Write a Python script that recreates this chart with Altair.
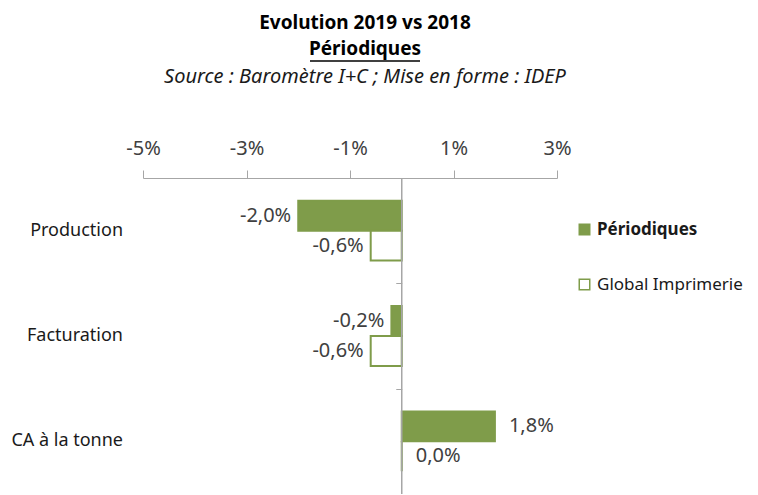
import altair as alt
import pandas as pd

categories = ["Production", "Facturation", "CA à la tonne"]
series = ["Périodiques", "Global Imprimerie"]
periodiques = [-2.0, -0.2, 1.8]
global_imp = [-0.6, -0.6, 0.0]
x_ticks = [-5, -3, -1, 1, 3]
title_lines = ["Evolution 2019 vs 2018", "Périodiques"]
subtitle = "Source : Baromètre I+C ; Mise en forme : IDEP"

rows = []
for c, p, g in zip(categories, periodiques, global_imp):
    rows.append({"cat": c, "serie": series[0], "val": p})
    rows.append({"cat": c, "serie": series[1], "val": g})
df = pd.DataFrame(rows)
df["label"] = df["val"].map(lambda v: f"{v:.1f}".replace(".", ",") + "%")
cat_df = pd.DataFrame({"cat": categories})

GREEN = "#7F9C4A"
FONT = "Noto Sans"
GRAY = "#A6A6A6"
TXT = "#404040"

y_enc = alt.Y(
    "cat:N", sort=categories,
    scale=alt.Scale(domain=categories, paddingInner=0, paddingOuter=0),
    axis=alt.Axis(title=None, labels=False, domain=False, ticks=True,
                  tickBand="extent", tickSize=6, tickColor=GRAY,
                  offset=-258.75, grid=False),
)
yoff_enc = alt.YOffset("serie:N", sort=series,
                       scale=alt.Scale(domain=series, paddingOuter=0.76, paddingInner=0))
x_enc = alt.X(
    "val:Q",
    scale=alt.Scale(domain=[-5, 3], nice=False, zero=False),
    axis=alt.Axis(orient="top", values=x_ticks, labelExpr="datum.value + '%'",
                  title=None, grid=False, domainColor=GRAY, tickColor=GRAY,
                  tickSize=8, labelFontSize=20, labelColor=TXT, labelPadding=12,
                  labelFont=FONT, labelFlush=False, labelOverlap=False),
)

base = alt.Chart(df)

bars = base.mark_bar(stroke=GREEN, strokeWidth=2).encode(
    x=x_enc,
    x2=alt.datum(0),
    y=y_enc,
    yOffset=yoff_enc,
    fill=alt.Fill(
        "serie:N", sort=series,
        scale=alt.Scale(domain=series, range=[GREEN, "white"]),
        legend=alt.Legend(
            title=None, orient="none", legendX=433, legendY=43,
            symbolType="square", symbolSize=110, symbolStrokeColor=GREEN,
            symbolStrokeWidth=1.5, labelFontSize=17, labelFont=FONT,
            labelColor="#1a1a1a", rowPadding=37, labelOffset=4,
            labelFontWeight={"expr": "datum.label == 'Périodiques' ? 'bold' : 'normal'"},
        ),
    ),
)

zero_rule = alt.Chart(pd.DataFrame({"z": [0]})).mark_rule(color=GRAY, strokeWidth=1.5).encode(
    x=alt.X("z:Q"),
)

neg_labels = base.transform_filter("datum.val < 0").mark_text(
    align="right", baseline="middle", dx=-7, fontSize=20, font=FONT, color=TXT
).encode(x=x_enc, y=y_enc, yOffset=yoff_enc, text="label:N")

pos_labels = base.transform_filter("datum.val >= 0").mark_text(
    align="left", baseline="middle", dx=14, fontSize=20, font=FONT, color=TXT
).encode(x=x_enc, y=y_enc, yOffset=yoff_enc, text="label:N")

cat_labels = alt.Chart(cat_df).mark_text(
    align="right", baseline="middle", fontSize=18, font=FONT, color="#1a1a1a"
).encode(x=alt.value(-20), y=y_enc, text="cat:N")

one = pd.DataFrame({"t": [0]})
t1 = alt.Chart(one).mark_text(
    align="center", baseline="middle", fontSize=19, fontWeight="bold", font=FONT, color="#000"
).encode(x=alt.value(222), y=alt.value(-155), text=alt.value(title_lines[0]))
t2 = alt.Chart(one).mark_text(
    align="center", baseline="middle", fontSize=19, fontWeight="bold", font=FONT, color="#000"
).encode(x=alt.value(222), y=alt.value(-129), text=alt.value(title_lines[1]))
underline = alt.Chart(one).mark_rule(color="#000", strokeWidth=1.5).encode(
    x=alt.value(167), x2=alt.value(277), y=alt.value(-117)
)
t3 = alt.Chart(one).mark_text(
    align="center", baseline="middle", fontSize=20, fontStyle="italic", font=FONT, color="#1a1a1a"
).encode(x=alt.value(222), y=alt.value(-101), text=alt.value(subtitle))

chart = alt.layer(
    bars, zero_rule, neg_labels, pos_labels, cat_labels, t1, t2, underline, t3
).properties(
    width=414, height=316,
    autosize=alt.AutoSizeParams(type="none"),
    padding={"left": 135, "top": 170, "right": 193, "bottom": 0},
).configure_view(stroke=None)

chart.save("out.html", embed_options={"renderer": "svg", "actions": False})
